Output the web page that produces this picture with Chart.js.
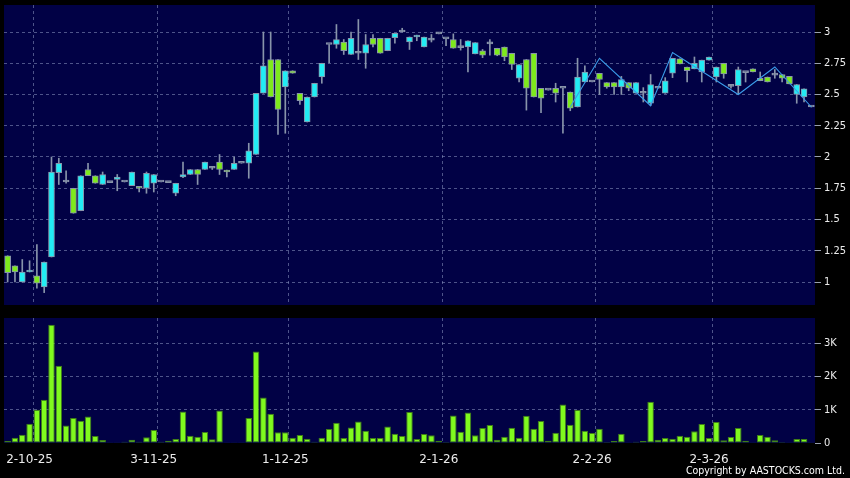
<!DOCTYPE html>
<html>
<head>
<meta charset="utf-8">
<script src="https://cdn.jsdelivr.net/npm/chart.js@4.4.1/dist/chart.umd.min.js"></script>
<style>
  html, body { margin: 0; padding: 0; background: #000; }
  #wrap { position: relative; width: 850px; height: 478px; overflow: hidden; }
  #priceChart { position: absolute; left: 0; top: 0; }
  #volChart { position: absolute; left: 0; top: 310px; }
  #copy { position: absolute; right: 5px; top: 464px; color: #fff;
          font: 10.5px "DejaVu Sans Condensed", "DejaVu Sans", sans-serif; white-space: nowrap; }
</style>
</head>
<body>
<div id="wrap">
  <canvas id="priceChart" width="850" height="310"></canvas>
  <canvas id="volChart" width="850" height="168"></canvas>
  <div id="copy">Copyright by AASTOCKS.com Ltd.</div>
</div>
<script>
// daily candles, oldest first
const opens = [1.21,1.13,1.00,1.08,1.05,0.96,1.20,1.875,1.80,1.75,1.57,1.90,1.85,1.78,1.795,1.82,1.80,1.77,1.765,1.75,
  1.79,1.80,1.795,1.71,1.84,1.86,1.90,1.90,1.91,1.96,1.895,1.90,1.95,1.95,2.02,2.51,2.78,2.78,2.56,2.69,
  2.51,2.28,2.48,2.64,2.90,2.90,2.92,2.82,2.83,2.83,2.95,2.95,2.85,2.955,3.00,2.92,2.96,2.88,2.935,2.985,
  2.945,2.94,2.875,2.88,2.825,2.85,2.905,2.87,2.88,2.83,2.63,2.78,2.83,2.55,2.535,2.55,2.55,2.52,2.40,2.60,
  2.60,2.67,2.595,2.595,2.56,2.595,2.51,2.51,2.43,2.55,2.51,2.67,2.785,2.72,2.705,2.68,2.775,2.64,2.75,2.565,
  2.57,2.675,2.705,2.63,2.64,2.655,2.66,2.645,2.50,2.48,2.40];
const highs = [1.21,1.13,1.18,1.17,1.30,1.16,2.00,1.99,1.89,1.75,1.85,1.95,1.85,1.88,1.795,1.86,1.80,1.88,1.765,1.88,
  1.86,1.80,1.795,1.79,1.96,1.90,1.90,1.96,1.92,2.02,1.895,2.00,1.95,2.11,2.51,3.00,3.00,2.78,2.69,2.69,
  2.51,2.48,2.59,2.75,2.90,3.06,2.94,3.00,3.10,2.98,2.98,2.95,2.95,2.99,3.03,2.96,2.975,2.96,2.98,2.985,
  2.945,2.985,2.94,2.93,2.915,2.86,2.94,2.87,2.88,2.83,2.74,2.78,2.83,2.55,2.535,2.59,2.55,2.52,2.79,2.73,
  2.60,2.67,2.595,2.595,2.645,2.595,2.595,2.555,2.66,2.55,2.635,2.79,2.785,2.72,2.80,2.775,2.80,2.72,2.75,2.58,
  2.72,2.675,2.705,2.68,2.64,2.70,2.66,2.645,2.58,2.545,2.40];
const lows = [1.00,1.00,1.00,1.08,0.95,0.915,1.20,1.78,1.79,1.55,1.57,1.85,1.79,1.78,1.795,1.73,1.80,1.77,1.72,1.71,
  1.72,1.80,1.795,1.69,1.835,1.86,1.78,1.90,1.90,1.86,1.84,1.90,1.95,1.83,2.02,2.51,2.48,2.18,2.19,2.67,
  2.42,2.28,2.48,2.59,2.755,2.87,2.82,2.82,2.78,2.71,2.88,2.83,2.85,2.91,3.00,2.86,2.93,2.88,2.92,2.985,
  2.89,2.87,2.855,2.68,2.825,2.795,2.815,2.81,2.77,2.70,2.60,2.375,2.48,2.355,2.535,2.44,2.19,2.37,2.40,2.60,
  2.60,2.50,2.55,2.50,2.50,2.53,2.51,2.44,2.41,2.55,2.51,2.635,2.745,2.60,2.705,2.60,2.775,2.60,2.63,2.55,
  2.50,2.60,2.68,2.61,2.60,2.63,2.60,2.585,2.43,2.44,2.40];
const closes = [1.075,1.08,1.08,1.09,0.99,1.16,1.88,1.95,1.80,1.55,1.85,1.85,1.79,1.86,1.795,1.84,1.80,1.88,1.75,1.87,
  1.86,1.80,1.795,1.79,1.86,1.90,1.86,1.96,1.91,1.90,1.88,1.95,1.95,2.05,2.51,2.73,2.48,2.38,2.69,2.67,
  2.45,2.48,2.59,2.75,2.90,2.94,2.85,2.95,2.83,2.90,2.90,2.83,2.95,2.99,3.00,2.96,2.975,2.96,2.935,2.985,
  2.945,2.87,2.875,2.93,2.915,2.815,2.905,2.815,2.80,2.74,2.74,2.55,2.48,2.47,2.535,2.51,2.55,2.39,2.64,2.68,
  2.60,2.62,2.56,2.56,2.62,2.55,2.595,2.51,2.58,2.55,2.61,2.79,2.745,2.69,2.75,2.775,2.80,2.72,2.665,2.565,
  2.70,2.675,2.68,2.61,2.60,2.655,2.63,2.585,2.58,2.545,2.40];
const volumes = [60,160,250,580,1000,1300,3560,2320,530,750,670,800,210,90,10,20,40,100,40,170,
  390,40,70,120,950,220,190,330,110,980,20,20,20,750,2750,1370,880,320,320,160,
  240,130,40,160,420,610,150,470,650,370,150,150,500,280,210,930,120,270,230,70,
  30,830,340,920,230,450,540,100,190,460,160,820,430,660,70,310,1160,550,990,370,
  300,430,30,60,280,20,40,60,1240,100,150,130,220,190,350,570,150,630,80,180,
  450,70,20,240,190,80,30,10,120,120,10];

// zigzag turning points (day index, price)
const zigzagDays = [77, 81, 88, 91, 100, 105, 110];
const zigzagPrices = [2.40, 2.79, 2.41, 2.835, 2.50, 2.72, 2.40];

// date labels on the time axis
const dateDays = [3, 20, 38, 59, 80, 96];
const dateLabels = ['2-10-25', '3-11-25', '1-12-25', '2-1-26', '2-2-26', '2-3-26'];

const priceTicks = [1, 1.25, 1.5, 1.75, 2, 2.25, 2.5, 2.75, 3];
const volTicks = [0, 1000, 2000, 3000];

const NAVY = '#010145';
const GRID = 'rgba(130,140,185,0.6)';
const UP = '#22ECF4';
const DOWN = '#7EEA1C';
const EDGE = '#8894aa';

const days = opens.map((_, i) => String(i));
const zigzag = opens.map(() => null);
zigzagDays.forEach((d, j) => { zigzag[d] = zigzagPrices[j]; });

const plotBg = {
    id: 'plotBg',
    beforeDraw(chart) {
        const a = chart.chartArea;
        const ctx = chart.ctx;
        ctx.save();
        ctx.fillStyle = NAVY;
        ctx.fillRect(a.left, a.top, a.right - a.left, a.bottom - a.top);
        ctx.restore();
    }
};

// vertical grid line sits on the right edge of a dated bar
function dateGridColor(c) {
    return dateDays.includes(c.index - 1) ? GRID : 'rgba(0,0,0,0)';
}

// fixed width for the right axis, and no extra room for half labels
function fitRightAxis(axis) {
    axis.width = 35;
    axis.paddingTop = 0;
    axis.paddingBottom = 0;
}

Chart.defaults.animation = false;
Chart.defaults.font.family = '"DejaVu Sans", sans-serif';

new Chart(document.getElementById('priceChart'), {
    type: 'bar',
    data: {
        labels: days,
        datasets: [
            {
                type: 'line',
                data: zigzag,
                spanGaps: true,
                borderColor: '#3a9be8',
                borderWidth: 1.1,
                pointRadius: 0,
                tension: 0,
                order: 0
            },
            {
                data: opens.map((o, i) => [o, closes[i]]),
                backgroundColor: closes.map((c, i) => c > opens[i] ? UP : (c < opens[i] ? DOWN : EDGE)),
                borderColor: EDGE,
                borderWidth: 1,
                borderSkipped: false,
                barThickness: 6,
                minBarLength: 2,
                grouped: false,
                order: 1
            },
            {
                data: lows.map((l, i) => [l, highs[i]]),
                backgroundColor: EDGE,
                borderWidth: 0,
                barThickness: 1,
                grouped: false,
                order: 2
            }
        ]
    },
    options: {
        responsive: false,
        layout: { padding: { left: 4, top: 5, bottom: 5, right: 0 } },
        plugins: { legend: { display: false }, tooltip: { enabled: false } },
        scales: {
            x: {
                offset: true,
                grid: { offset: true, color: dateGridColor, drawTicks: false },
                border: { display: false, dash: [3, 3] },
                ticks: { display: false },
                afterFit: axis => { axis.height = 0; axis.paddingLeft = 0; axis.paddingRight = 0; }
            },
            y: {
                position: 'right',
                min: 0.816,
                max: 3.216,
                afterBuildTicks: axis => { axis.ticks = priceTicks.map(v => ({ value: v })); },
                afterFit: fitRightAxis,
                grid: { color: GRID, tickColor: '#9aa0b0', tickLength: 6, tickBorderDash: [] },
                border: { display: false, dash: [3, 3] },
                ticks: {
                    color: '#ececec',
                    padding: 3,
                    font: { family: '"DejaVu Sans Condensed", "DejaVu Sans", sans-serif', size: 11 },
                    callback: v => String(v)
                }
            }
        }
    },
    plugins: [plotBg]
});

new Chart(document.getElementById('volChart'), {
    type: 'bar',
    data: {
        labels: days,
        datasets: [{
            data: volumes,
            backgroundColor: '#80FA1E',
            borderColor: '#3f7d18',
            borderWidth: 1,
            borderSkipped: false,
            barPercentage: 0.9,
            categoryPercentage: 1
        }]
    },
    options: {
        responsive: false,
        layout: { padding: { left: 4, top: 8, bottom: 0, right: 0 } },
        plugins: { legend: { display: false }, tooltip: { enabled: false } },
        scales: {
            x: {
                offset: true,
                grid: { offset: true, color: dateGridColor, drawTicks: false },
                border: { display: false, dash: [3, 3] },
                afterFit: axis => { axis.height = 35; axis.paddingLeft = 0; axis.paddingRight = 0; },
                ticks: {
                    autoSkip: false,
                    maxRotation: 0,
                    padding: 10,
                    color: '#ececec',
                    font: { size: 12 },
                    callback: (v, i) => {
                        const k = dateDays.indexOf(i);
                        return k >= 0 ? dateLabels[k] : '';
                    }
                }
            },
            y: {
                position: 'right',
                min: 0,
                max: 3760,
                afterBuildTicks: axis => { axis.ticks = volTicks.map(v => ({ value: v })); },
                afterFit: fitRightAxis,
                grid: {
                    color: c => c.tick && c.tick.value === 0 ? 'rgba(0,0,0,0)' : GRID,
                    tickColor: '#9aa0b0',
                    tickLength: 6
                },
                border: { display: false, dash: [3, 3] },
                ticks: {
                    color: '#ececec',
                    padding: 3,
                    font: { family: '"DejaVu Sans Condensed", "DejaVu Sans", sans-serif', size: 11 },
                    callback: v => v === 0 ? '0' : (v / 1000) + 'K'
                }
            }
        }
    },
    plugins: [plotBg]
});
</script>
</body>
</html>
